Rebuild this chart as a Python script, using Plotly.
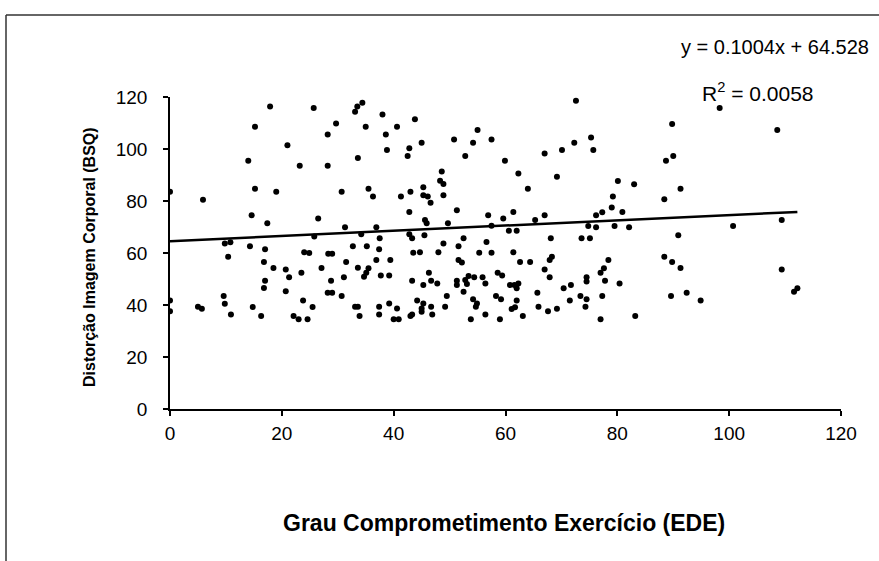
import plotly.graph_objects as go

# Grau Comprometimento Exercício (EDE) – x values
ede = [17.9, 25.7, 29.7, 15.2, 28.2, 21.0, 14.0, 23.2, 28.2, 0.0, 15.2, 19.0, 5.9, 14.6, 17.4, 26.5,
       25.8, 9.8, 10.8, 14.3, 17.0, 24.0, 24.9, 28.3, 29.0,
       10.4, 16.8, 18.5, 20.7, 21.3, 23.5, 27.1, 28.8, 17.0, 16.8, 20.7, 28.2, 29.0, 23.8, 25.5,
       9.6, 9.8, 10.9, 0.0, 0.0, 5.0, 5.7, 14.8, 16.3, 22.1, 23.0, 24.6,
       34.4, 33.5, 33.1, 38.0, 35.0, 40.6, 43.8, 38.6, 38.8, 42.8, 42.5, 45.0, 50.8, 54.2, 55.0,
       57.5, 33.6, 52.8, 59.9, 48.6, 48.3, 48.9, 30.7, 35.5, 36.3, 41.3, 43.0, 45.3, 45.3, 46.1,
       46.6, 48.9, 42.8, 51.3, 56.9, 59.6, 45.6, 45.9, 49.7, 31.3, 36.9, 57.5, 34.2, 42.8, 43.3,
       45.5, 37.5, 52.5, 56.6, 48.9, 32.7, 35.2, 37.4, 51.6, 43.5, 44.7, 48.0, 55.3, 57.5,
       31.5, 36.9, 39.4, 33.6, 35.5, 35.1, 34.7, 31.1, 37.7, 39.2, 43.3, 45.3, 46.3, 46.7, 47.8,
       51.6, 52.2, 51.3, 51.3, 52.8, 53.4, 53.1, 54.4, 55.9, 56.4, 58.6, 59.4, 30.7, 52.5, 54.2,
       54.9, 54.7, 58.3, 59.2, 44.2, 45.3, 45.0, 45.0, 46.7, 49.2, 49.5, 46.9, 43.0, 43.3, 33.1,
       33.6, 33.9, 37.4, 37.4, 39.2, 40.6, 40.0, 40.9, 53.8, 56.4, 59.0,
       72.6, 89.8, 67.0, 70.1, 72.3, 75.3, 75.7, 62.3, 64.0, 69.2, 88.7, 90.0, 80.1, 83.0, 79.2,
       79.0, 88.4, 80.9, 77.3, 76.2, 61.4, 67.0, 65.3, 74.8, 76.2, 79.5, 82.1, 60.6, 62.0, 68.1,
       73.6, 75.1, 61.4,
       62.6, 64.4, 67.0, 67.9, 68.3, 67.9, 60.8, 61.6, 62.3, 62.0, 65.7, 62.0, 61.7, 61.1, 63.1,
       65.9, 67.6, 69.2, 70.4, 71.7, 71.5, 73.4, 74.5, 74.5, 74.5, 74.3, 77.0, 77.6, 78.4, 77.8,
       80.4, 77.3, 77.0, 83.2, 88.4, 89.8, 89.6,
       98.3, 108.6, 91.3, 90.9, 100.7, 109.4, 91.3, 109.4, 92.4, 94.9, 111.6, 112.2]

# Distorção Imagem Corporal (BSQ) – y values
bsq = [116.3, 115.8, 109.8, 108.6, 105.6, 101.4, 95.5, 93.6, 93.6, 83.6, 84.7, 83.6, 80.5, 74.5, 71.4, 73.3,
       66.3, 63.7, 64.1, 62.6, 61.4, 60.3, 60.0, 59.7, 59.7,
       58.6, 56.5, 54.2, 53.7, 50.7, 52.4, 54.2, 49.3, 49.3, 46.5, 45.3, 44.7, 44.7, 41.7, 39.2,
       43.5, 40.5, 36.3, 41.7, 37.6, 39.3, 38.6, 39.2, 35.8, 35.8, 34.5, 34.5,
       117.8, 116.3, 114.3, 113.3, 108.6, 108.6, 111.4, 105.6, 99.6, 100.3, 97.3, 102.4, 103.7, 102.4, 107.3,
       103.7, 96.5, 97.3, 95.5, 91.3, 87.8, 86.5, 83.6, 84.7, 81.7, 81.7, 83.6, 85.3, 82.2, 81.7,
       79.3, 82.2, 75.8, 76.4, 74.5, 73.3, 72.7, 71.4, 71.4, 69.9, 69.9, 70.5, 67.2, 67.2, 65.7,
       66.8, 65.7, 65.7, 64.2, 63.7, 62.6, 62.6, 61.4, 62.6, 60.1, 60.3, 60.3, 60.1, 60.1,
       56.5, 57.3, 57.3, 54.3, 54.1, 52.4, 50.9, 50.7, 51.3, 51.3, 49.3, 47.7, 52.4, 49.3, 48.3,
       57.3, 56.3, 49.3, 47.7, 49.6, 51.2, 48.1, 50.7, 50.7, 48.3, 52.4, 51.3, 43.5, 45.1, 42.2,
       40.6, 39.3, 43.5, 42.2, 41.7, 40.6, 38.7, 37.4, 39.3, 39.3, 43.5, 36.3, 35.8, 36.3, 39.3,
       39.3, 35.8, 39.3, 36.3, 40.6, 38.7, 34.5, 34.5, 34.5, 36.3, 34.5,
       118.6, 109.6, 98.3, 99.6, 102.4, 104.4, 99.6, 90.6, 84.7, 89.3, 95.5, 97.3, 87.7, 86.4, 81.7,
       77.5, 80.7, 75.8, 75.7, 74.5, 75.8, 74.5, 72.7, 70.4, 69.9, 70.4, 69.9, 68.6, 68.6, 65.7,
       65.7, 65.7, 60.3,
       56.5, 56.5, 53.7, 50.7, 58.6, 57.3, 47.7, 47.7, 48.3, 46.4, 44.7, 41.7, 39.1, 38.5, 35.8,
       39.3, 37.6, 38.6, 46.4, 47.7, 41.7, 43.5, 50.7, 49.0, 42.2, 39.3, 52.4, 54.1, 57.3, 49.3,
       48.3, 43.5, 34.5, 35.8, 58.6, 56.5, 43.5,
       115.8, 107.3, 84.7, 66.8, 70.4, 72.7, 54.2, 53.7, 44.7, 41.7, 45.1, 46.4]

# Linear trend line (as printed on the chart)
slope = 0.1004
intercept = 64.528

tick_vals = [0, 20, 40, 60, 80, 100, 120]
tick_text = ["0", "20", "40", "60", "80", "100", "120"]

x_title = "Grau Comprometimento Exercício (EDE)"
y_title = "Distorção Imagem Corporal (BSQ)"
eq_text = "y = 0.1004x + 64.528"
r2_text = "R<sup>2</sup> = 0.0058"

FONT = "Liberation Sans, Arial, sans-serif"

fig = go.Figure()

fig.add_trace(go.Scatter(
    x=ede, y=bsq, mode="markers",
    marker=dict(color="black", size=6, line=dict(width=0)),
    showlegend=False, hoverinfo="x+y"
))

x_line = [0, max(ede)]
y_line = [slope * v + intercept for v in x_line]
fig.add_trace(go.Scatter(
    x=x_line, y=y_line, mode="lines",
    line=dict(color="black", width=2.5),
    showlegend=False, hoverinfo="skip"
))

W, H = 879, 561
L, R, T, B = 170, 38, 97, 152
pw, ph = W - L - R, H - T - B

def px(x):
    return (x - L) / pw

def py(y):
    return (H - B - y) / ph

frame = dict(color="#333333", width=1.5)

fig.update_layout(
    width=W, height=H,
    margin=dict(l=L, r=R, t=T, b=B, pad=0),
    paper_bgcolor="white", plot_bgcolor="white",
    font=dict(family=FONT, size=19, color="black"),
    xaxis=dict(
        range=[0, 120], tickvals=tick_vals, ticktext=tick_text,
        showline=True, linecolor="black", linewidth=1.5,
        ticks="outside", ticklen=5, tickwidth=1.5, tickcolor="black",
        showgrid=False, zeroline=False, ticklabelstandoff=1,
        tickfont=dict(size=19, family=FONT),
    ),
    yaxis=dict(
        range=[0, 120], tickvals=tick_vals, ticktext=tick_text,
        showline=True, linecolor="black", linewidth=1.5,
        ticks="outside", ticklen=5, tickwidth=1.5, tickcolor="black",
        showgrid=False, zeroline=False, ticklabelstandoff=12,
        tickfont=dict(size=19, family=FONT),
    ),
    shapes=[
        dict(type="line", xref="paper", yref="paper",
             x0=px(6), x1=px(879), y0=py(15), y1=py(15), line=frame),
        dict(type="line", xref="paper", yref="paper",
             x0=px(6), x1=px(6), y0=py(15), y1=py(561), line=frame),
    ],
    annotations=[
        dict(text=eq_text, xref="paper", yref="paper", x=px(679), y=py(47),
             xanchor="left", yanchor="middle", showarrow=False,
             font=dict(size=20, family=FONT)),
        dict(text=r2_text, xref="paper", yref="paper", x=px(700), y=py(92),
             xanchor="left", yanchor="middle", showarrow=False,
             font=dict(size=21, family=FONT)),
        dict(text="<b>" + x_title + "</b>", xref="paper", yref="paper", x=px(504), y=py(523),
             xanchor="center", yanchor="middle", showarrow=False,
             font=dict(size=23, family=FONT)),
        dict(text="<b>" + y_title + "</b>", xref="paper", yref="paper", x=px(89), y=py(257),
             xanchor="center", yanchor="middle", showarrow=False, textangle=-90,
             font=dict(size=16, family=FONT)),
    ],
)

fig.write_html("out.html")
